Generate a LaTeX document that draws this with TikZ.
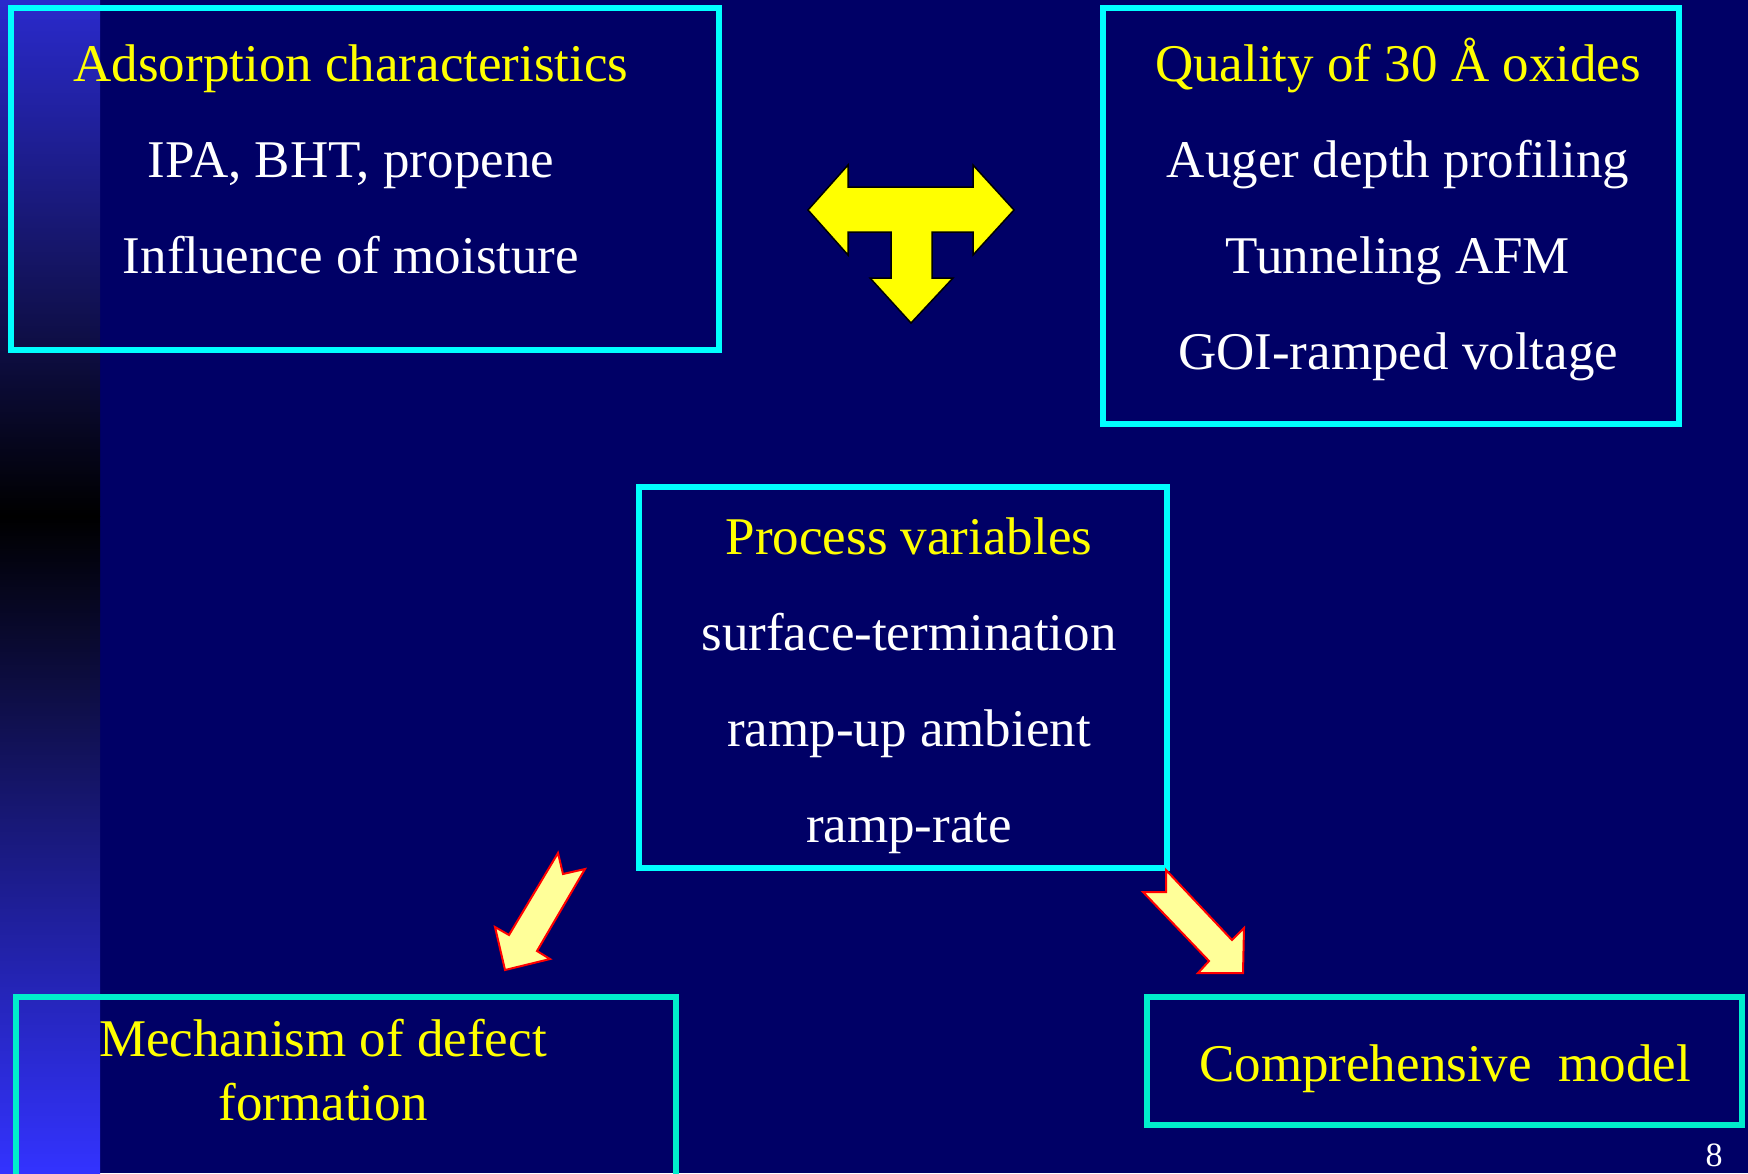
\documentclass[tikz,border=0pt]{standalone}
\usepackage{fontspec}
\setmainfont{Liberation Serif}
\usetikzlibrary{positioning}
\usetikzlibrary{calc}

\definecolor{slidebg}{RGB}{0,0,102}
\definecolor{stripetop}{RGB}{42,42,204}
\definecolor{stripebot}{RGB}{51,51,255}
\definecolor{boxcyan}{RGB}{0,255,255}
\definecolor{boxaqua}{RGB}{0,238,204}
\definecolor{headyellow}{RGB}{255,255,0}
\definecolor{paleyellow}{RGB}{255,255,153}

\tikzset{
  frame/.style={draw=boxcyan, line width=6.5pt},
  frameb/.style={draw=boxaqua, line width=6.5pt},
  head/.style={text=headyellow, anchor=base, font=\fontsize{53}{64}\selectfont},
  item/.style={text=white, anchor=base, font=\fontsize{53}{64}\selectfont},
  bigarrow/.style={fill=headyellow, draw=black, line width=1.5pt, line join=miter},
  smallarrow/.style={fill=paleyellow, draw=red, line width=2pt, line join=miter}
}

\begin{document}
\begin{tikzpicture}[x=1pt, y=-1pt]
    \useasboundingbox (0, 0) rectangle (1748, 1173);
    \path[fill=slidebg] (0, 0) rectangle (1748, 1173);

    % left stripe
    \shade[top color=stripetop, bottom color=black] (0, 0) rectangle (100, 516);
    \shade[top color=black, bottom color=stripebot] (0, 516) rectangle (100, 1173);

    % frames
    \path[frame] (11, 8) rectangle (719, 350);
    \path[frame] (1103, 8) rectangle (1679, 424);
    \path[frame] (639, 487) rectangle (1167, 868);
    \path[frameb] (16, 997) rectangle (676, 1190);
    \path[frameb] (1147, 997) rectangle (1742, 1125);

    % top left
    \node[head] (adsorb) at (351, 81) {Adsorption characteristics};
    \node[item] (ipa) at (351, 177) {IPA, BHT, propene};
    \node[item] (moist) at (351, 273) {Influence of moisture};

    % top right
    \node[head] (quality) at (1398, 81) {Quality of 30 Å oxides};
    \node[item] (auger) at (1398, 177) {Auger depth profiling};
    \node[item] (tafm) at (1398, 273) {Tunneling AFM};
    \node[item] (goi) at (1398, 369) {GOI-ramped voltage};

    % middle
    \node[head] (process) at (909, 554) {Process variables};
    \node[item] (surf) at (909, 650) {surface-termination};
    \node[item] (ambient) at (909, 746) {ramp-up ambient};
    \node[item] (rate) at (909, 842) {ramp-rate};

    % bottom
    \node[head] (mech) at (323, 1056) {Mechanism of defect};
    \node[head] (form) at (323, 1120) {formation};
    \node[head] (model) at (1445, 1081) {Comprehensive~~model};

    \node[text=white, anchor=base, font=\fontsize{34}{40}\selectfont] (pageno) at (1714, 1166) {8};

    % T arrow
    \path[bigarrow] (808, 210) -- (848, 165) -- (848, 187) -- (973, 187) -- (973, 165)
      -- (1014, 210) -- (973, 255) -- (973, 232) -- (932, 232) -- (932, 278)
      -- (953, 278) -- (911, 323) -- (870, 278) -- (891, 278) -- (891, 232)
      -- (848, 232) -- (848, 255) -- cycle;

    % small arrows
    \path[smallarrow] (558, 853) -- (563, 874) -- (585, 869) -- (537, 951) -- (550, 959)
      -- (505, 970) -- (495, 927) -- (509, 935) -- cycle;
    \path[smallarrow] (1166, 870) -- (1232, 940) -- (1244, 928) -- (1243, 973)
      -- (1198, 973) -- (1209, 961) -- (1143, 892) -- (1166, 892) -- cycle;
\end{tikzpicture}
\end{document}
